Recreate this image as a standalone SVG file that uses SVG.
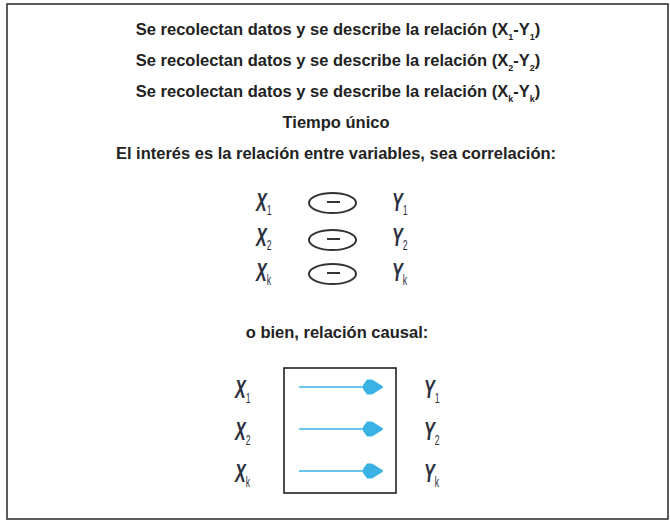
<svg xmlns="http://www.w3.org/2000/svg" width="670" height="522" viewBox="0 0 670 522">
<style>
.t{font-family:"Liberation Sans",Arial,sans-serif;font-weight:bold;font-size:16.5px;fill:#222;text-anchor:middle}
.s{font-size:9px}
.v{font-family:"Liberation Sans",Arial,sans-serif;font-style:italic;font-weight:bold;font-size:26px;fill:#2b3040}
.vs{font-size:14px;font-style:normal;font-weight:normal}
.ar{stroke:#3ab3e4;stroke-width:1.6;fill:none}
</style>
<defs>
<path id="head" d="M0,-2 L4,-7.5 L9,-7.5 L19.5,-1 Q20.5,0 19.5,1 L9,7.5 L4,7.5 L0,2 Z" fill="#3ab3e4"/>
</defs>
<rect x="7" y="4" width="661" height="515" fill="#fff" stroke="#333" stroke-width="1.6"/>
<g id="texts">
<text class="t" x="338" y="35">Se recolectan datos y se describe la relación (X<tspan class="s" dy="5">1</tspan><tspan dy="-5">-Y</tspan><tspan class="s" dy="5">1</tspan><tspan dy="-5">)</tspan></text>
<text class="t" x="338" y="66">Se recolectan datos y se describe la relación (X<tspan class="s" dy="5">2</tspan><tspan dy="-5">-Y</tspan><tspan class="s" dy="5">2</tspan><tspan dy="-5">)</tspan></text>
<text class="t" x="338" y="97">Se recolectan datos y se describe la relación (X<tspan class="s" dy="5">k</tspan><tspan dy="-5">-Y</tspan><tspan class="s" dy="5">k</tspan><tspan dy="-5">)</tspan></text>
<text class="t" x="336" y="128">Tiempo único</text>
<text class="t" x="336" y="159">El interés es la relación entre variables, sea correlación:</text>
<text class="t" x="337" y="338">o bien, relación causal:</text>
</g>
<g id="correlation">
<g transform="translate(256,211) scale(0.62,1)"><text class="v">X<tspan class="vs" dy="4">1</tspan></text></g>
<g transform="translate(256,246) scale(0.62,1)"><text class="v">X<tspan class="vs" dy="4">2</tspan></text></g>
<g transform="translate(256,281) scale(0.62,1)"><text class="v">X<tspan class="vs" dy="4">k</tspan></text></g>
<g transform="translate(392,211) scale(0.62,1)"><text class="v">Y<tspan class="vs" dy="4">1</tspan></text></g>
<g transform="translate(392,246) scale(0.62,1)"><text class="v">Y<tspan class="vs" dy="4">2</tspan></text></g>
<g transform="translate(392,281) scale(0.62,1)"><text class="v">Y<tspan class="vs" dy="4">k</tspan></text></g>
<g fill="none" stroke="#333" stroke-width="2">
<ellipse cx="332.5" cy="203" rx="23.5" ry="10"/>
<ellipse cx="332.5" cy="240" rx="23.5" ry="10"/>
<ellipse cx="332.5" cy="274" rx="23.5" ry="10"/>
<path d="M327,202 H340 M327,239 H340 M327,273 H340" stroke-width="2.2"/>
</g>
</g>
<g id="causal">
<rect x="284" y="368" width="112" height="125" fill="none" stroke="#222" stroke-width="1.6"/>
<g transform="translate(235,398) scale(0.62,1)"><text class="v">X<tspan class="vs" dy="5">1</tspan></text></g>
<g transform="translate(235,440) scale(0.62,1)"><text class="v">X<tspan class="vs" dy="5">2</tspan></text></g>
<g transform="translate(235,482) scale(0.62,1)"><text class="v">X<tspan class="vs" dy="5">k</tspan></text></g>
<g transform="translate(424,398) scale(0.62,1)"><text class="v">Y<tspan class="vs" dy="5">1</tspan></text></g>
<g transform="translate(424,440) scale(0.62,1)"><text class="v">Y<tspan class="vs" dy="5">2</tspan></text></g>
<g transform="translate(424,482) scale(0.62,1)"><text class="v">Y<tspan class="vs" dy="5">k</tspan></text></g>
</g>
<g id="connectors">
<path class="ar" d="M299,387 H365 M299,429 H365 M299,471 H365"/>
<use href="#head" x="363" y="387"/>
<use href="#head" x="363" y="429"/>
<use href="#head" x="363" y="471"/>
</g>
</svg>
